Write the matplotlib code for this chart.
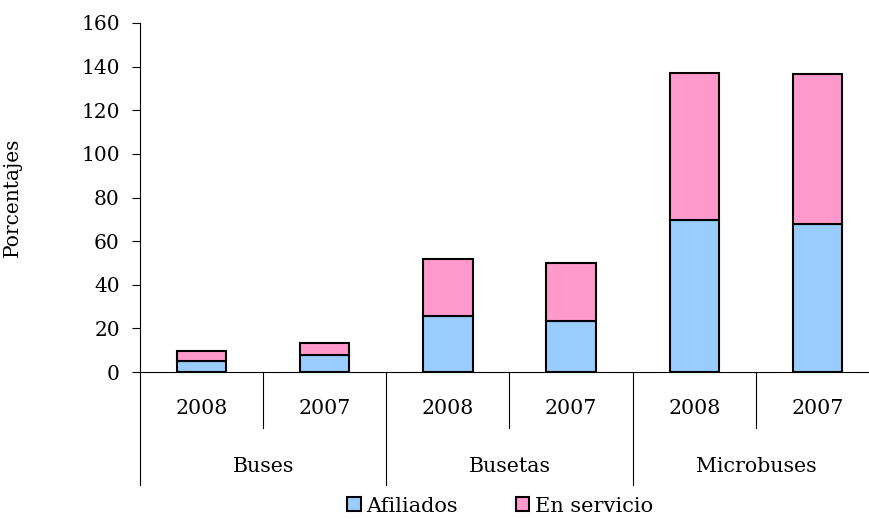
import matplotlib
matplotlib.use('Agg')
import matplotlib.pyplot as plt
import numpy as np

# data
groups = ['Buses', 'Busetas', 'Microbuses']
years = ['2008', '2007']
afiliados = [5.2, 8.0, 25.7, 23.4, 69.6, 67.9]
en_servicio = [4.4, 5.5, 26.0, 26.4, 67.6, 68.6]

plt.rcParams['font.family'] = 'DejaVu Serif'

W, H = 869, 519
fig = plt.figure(figsize=(W/100, H/100), dpi=100)
left, right, top, bottom = 140, 879, 23, 372
ax = fig.add_axes([left/W, 1 - bottom/H, (right-left)/W, (bottom-top)/H])
axh = bottom - top

x = np.arange(len(afiliados))
ax.bar(x, afiliados, width=0.4, color='#99CCFF', edgecolor='black', linewidth=1.5, label='Afiliados')
ax.bar(x, en_servicio, bottom=afiliados, width=0.4, color='#FF99CC', edgecolor='black', linewidth=1.5, label='En servicio')

ax.set_xlim(-0.5, len(x) - 0.5)
ax.set_ylim(0, 160)
ax.set_yticks(np.arange(0, 161, 20))
ax.tick_params(axis='y', length=5.5, width=0.8, labelsize=14.5, pad=9)
ax.set_xticks([])
for s in ['top', 'right']:
	ax.spines[s].set_visible(False)
ax.spines['left'].set_linewidth(0.8)
ax.spines['bottom'].set_linewidth(0.8)

ax.set_ylabel('Porcentajes', fontsize=14.5)
ax.yaxis.set_label_coords((22 - left) / (right - left), 0.5)

# two-level category axis
tr = ax.get_xaxis_transform()
for i, yr_pos in enumerate(x):
	ax.text(yr_pos, -37/axh, years[i % 2], transform=tr, ha='center', va='center', fontsize=14.8)
for g in range(len(groups)):
	ax.plot([2*g + 0.5]*2, [0, -56/axh], transform=tr, color='black', lw=0.8, clip_on=False)
	ax.plot([2*g - 0.5]*2, [0, -113/axh], transform=tr, color='black', lw=0.8, clip_on=False)
	ax.text(2*g + 0.5, -94/axh, groups[g], transform=tr, ha='center', va='center', fontsize=14.8)

fig.legend(loc='center', bbox_to_anchor=(500/W, 1 - 506/H), ncol=2, frameon=False,
	fontsize=15, handlelength=0.65, handleheight=0.65, handletextpad=0.25, columnspacing=2.8,
	borderpad=0.1)

plt.savefig('out.png', dpi=100)
plt.close('all')
